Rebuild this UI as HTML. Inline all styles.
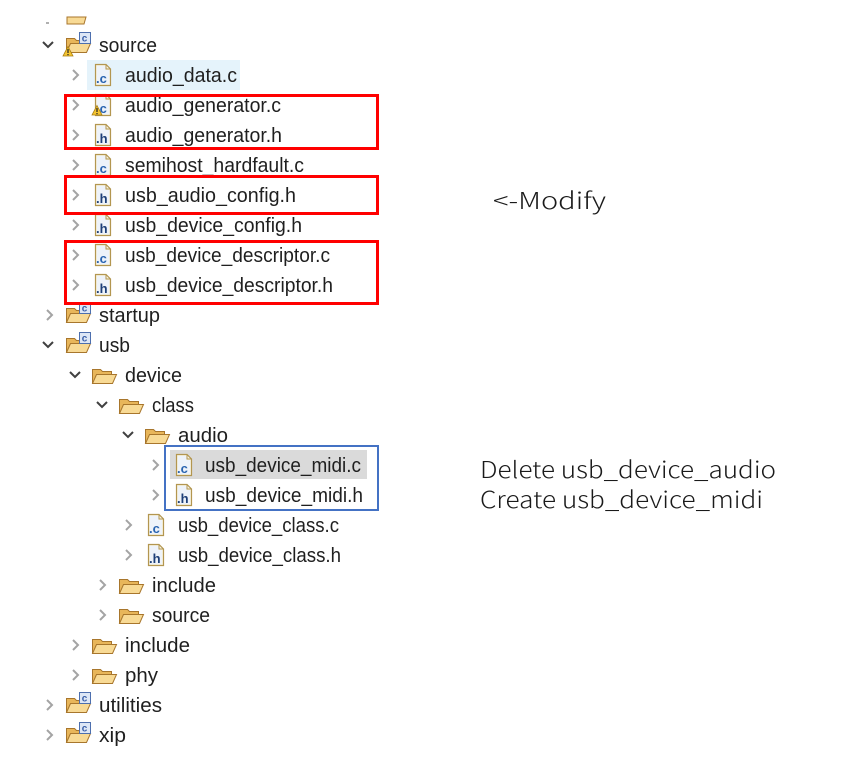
<!DOCTYPE html>
<html><head><meta charset="utf-8"><style>
html,body{margin:0;padding:0;background:#fff;}
svg{display:block;}
.t{font-family:"Liberation Sans",Arial,sans-serif;font-size:20px;fill:#1f1f1f;}
.a{font-family:"Noto Sans CJK JP","Liberation Sans",sans-serif;font-size:23px;font-weight:300;fill:#1a1a1a;}
.ic{font-family:"Liberation Sans",Arial,sans-serif;font-weight:bold;font-size:13px;}
</style></head><body>
<svg width="859" height="760" viewBox="0 0 859 760" xmlns="http://www.w3.org/2000/svg">
<defs>
  <g id="fold">
    <path d="M1.5,3.5 h8 l2,2 h9 v12 h-19 z" fill="#e8b65a" stroke="#a8762c" stroke-width="1"/>
    <path d="M1.5,17.5 L5.5,8.5 H25.5 L21.5,17.5 Z" fill="#f8da95" stroke="#a8762c" stroke-width="1"/>
  </g>
  <g id="badge">
    <rect x="0.5" y="0.5" width="11" height="11" fill="#dde7f6" stroke="#4d6fae"/>
    <text x="2.8" y="9.4" font-family="Liberation Sans,sans-serif" font-weight="bold" font-size="10" fill="#3a5fa8">c</text>
  </g>
  <g id="warn">
    <path d="M5,0.5 L10,10 H0 Z" fill="#f4c431" stroke="#a87d10" stroke-width="0.8"/>
    <rect x="4.4" y="3" width="1.2" height="4" fill="#222"/>
    <rect x="4.4" y="8" width="1.2" height="1.2" fill="#222"/>
  </g>
  <g id="file">
    <path d="M0.5,0.5 H11 L15.5,5 V21.5 H0.5 Z" fill="#f7f4e4" stroke="#b39650" stroke-width="1.2"/>
    <rect x="2" y="2" width="9" height="18" fill="#eef3fa"/>
    <rect x="2" y="6" width="12" height="14" fill="#eef3fa"/>
    <path d="M11,0.5 V5 H15.5" fill="none" stroke="#b39650" stroke-width="1"/>
  </g>
  <g id="cr"><path d="M-3,-5 L2,0 L-3,5" fill="none" stroke="#a4a4a4" stroke-width="2"/></g>
  <g id="cd"><path d="M-5,-2 L0,3 L5,-2" fill="none" stroke="#404040" stroke-width="2"/></g>
</defs>

<!-- top fragment -->
<rect x="46" y="22" width="3" height="2" fill="#b0b0b0"/>
<path d="M67,17 H86 L84,24 H67 Z" fill="#f8da95" stroke="#a8762c" stroke-width="1"/>

<!-- highlights -->
<rect x="87" y="60" width="153" height="30" fill="#e5f3fb"/>
<rect x="170" y="450" width="197" height="29" fill="#dadada"/>

<!-- row 0 source -->
<use href="#cd" x="48" y="44"/>
<use href="#fold" x="65" y="35"/>
<use href="#badge" x="79" y="32"/>
<use href="#warn" x="63" y="46"/>
<text class="t" x="99" y="52" textLength="58" lengthAdjust="spacingAndGlyphs">source</text>

<!-- L2 files -->
<use href="#cr" x="76" y="75"/>
<use href="#file" x="95" y="64"/>
<text class="ic" x="96" y="83" fill="#2a64b0">.c</text>
<text class="t" x="125" y="82" textLength="112" lengthAdjust="spacingAndGlyphs">audio_data.c</text>

<use href="#cr" x="76" y="105"/>
<use href="#file" x="95" y="94"/>
<text class="ic" x="96" y="113" fill="#2a64b0">.c</text>
<use href="#warn" x="92" y="105"/>
<text class="t" x="125" y="112" textLength="156" lengthAdjust="spacingAndGlyphs">audio_generator.c</text>

<use href="#cr" x="76" y="135"/>
<use href="#file" x="95" y="124"/>
<text class="ic" x="96" y="143" fill="#1d3f78">.h</text>
<text class="t" x="125" y="142" textLength="157" lengthAdjust="spacingAndGlyphs">audio_generator.h</text>

<use href="#cr" x="76" y="165"/>
<use href="#file" x="95" y="154"/>
<text class="ic" x="96" y="173" fill="#2a64b0">.c</text>
<text class="t" x="125" y="172" textLength="179" lengthAdjust="spacingAndGlyphs">semihost_hardfault.c</text>

<use href="#cr" x="76" y="195"/>
<use href="#file" x="95" y="184"/>
<text class="ic" x="96" y="203" fill="#1d3f78">.h</text>
<text class="t" x="125" y="202" textLength="171" lengthAdjust="spacingAndGlyphs">usb_audio_config.h</text>

<use href="#cr" x="76" y="225"/>
<use href="#file" x="95" y="214"/>
<text class="ic" x="96" y="233" fill="#1d3f78">.h</text>
<text class="t" x="125" y="232" textLength="177" lengthAdjust="spacingAndGlyphs">usb_device_config.h</text>

<use href="#cr" x="76" y="255"/>
<use href="#file" x="95" y="244"/>
<text class="ic" x="96" y="263" fill="#2a64b0">.c</text>
<text class="t" x="125" y="262" textLength="205" lengthAdjust="spacingAndGlyphs">usb_device_descriptor.c</text>

<use href="#cr" x="76" y="285"/>
<use href="#file" x="95" y="274"/>
<text class="ic" x="96" y="293" fill="#1d3f78">.h</text>
<text class="t" x="125" y="292" textLength="208" lengthAdjust="spacingAndGlyphs">usb_device_descriptor.h</text>

<!-- startup -->
<use href="#cr" x="50" y="315"/>
<use href="#fold" x="65" y="305"/>
<use href="#badge" x="79" y="302"/>
<text class="t" x="99" y="322" textLength="61" lengthAdjust="spacingAndGlyphs">startup</text>

<!-- usb -->
<use href="#cd" x="48" y="344"/>
<use href="#fold" x="65" y="335"/>
<use href="#badge" x="79" y="332"/>
<text class="t" x="99" y="352" textLength="31" lengthAdjust="spacingAndGlyphs">usb</text>

<!-- device -->
<use href="#cd" x="75" y="374"/>
<use href="#fold" x="91" y="366"/>
<text class="t" x="125" y="382" textLength="57" lengthAdjust="spacingAndGlyphs">device</text>

<!-- class -->
<use href="#cd" x="102" y="404"/>
<use href="#fold" x="118" y="396"/>
<text class="t" x="152" y="412" textLength="42" lengthAdjust="spacingAndGlyphs">class</text>

<!-- audio -->
<use href="#cd" x="128" y="434"/>
<use href="#fold" x="144" y="426"/>
<text class="t" x="178" y="442" textLength="50" lengthAdjust="spacingAndGlyphs">audio</text>

<!-- midi files L5 -->
<use href="#cr" x="156" y="465"/>
<use href="#file" x="176" y="454"/>
<text class="ic" x="177" y="473" fill="#2a64b0">.c</text>
<text class="t" x="205" y="472" textLength="156" lengthAdjust="spacingAndGlyphs">usb_device_midi.c</text>

<use href="#cr" x="156" y="495"/>
<use href="#file" x="176" y="484"/>
<text class="ic" x="177" y="503" fill="#1d3f78">.h</text>
<text class="t" x="205" y="502" textLength="158" lengthAdjust="spacingAndGlyphs">usb_device_midi.h</text>

<!-- class files L4 -->
<use href="#cr" x="129" y="525"/>
<use href="#file" x="148" y="514"/>
<text class="ic" x="149" y="533" fill="#2a64b0">.c</text>
<text class="t" x="178" y="532" textLength="161" lengthAdjust="spacingAndGlyphs">usb_device_class.c</text>

<use href="#cr" x="129" y="555"/>
<use href="#file" x="148" y="544"/>
<text class="ic" x="149" y="563" fill="#1d3f78">.h</text>
<text class="t" x="178" y="562" textLength="163" lengthAdjust="spacingAndGlyphs">usb_device_class.h</text>

<!-- include / source L3 -->
<use href="#cr" x="103" y="585"/>
<use href="#fold" x="118" y="576"/>
<text class="t" x="152" y="592" textLength="64" lengthAdjust="spacingAndGlyphs">include</text>

<use href="#cr" x="103" y="615"/>
<use href="#fold" x="118" y="606"/>
<text class="t" x="152" y="622" textLength="58" lengthAdjust="spacingAndGlyphs">source</text>

<!-- include / phy L2 -->
<use href="#cr" x="76" y="645"/>
<use href="#fold" x="91" y="636"/>
<text class="t" x="125" y="652" textLength="65" lengthAdjust="spacingAndGlyphs">include</text>

<use href="#cr" x="76" y="675"/>
<use href="#fold" x="91" y="666"/>
<text class="t" x="125" y="682" textLength="33" lengthAdjust="spacingAndGlyphs">phy</text>

<!-- utilities / xip -->
<use href="#cr" x="50" y="705"/>
<use href="#fold" x="65" y="695"/>
<use href="#badge" x="79" y="692"/>
<text class="t" x="99" y="712" textLength="63" lengthAdjust="spacingAndGlyphs">utilities</text>

<use href="#cr" x="50" y="735"/>
<use href="#fold" x="65" y="725"/>
<use href="#badge" x="79" y="722"/>
<text class="t" x="99" y="742" textLength="27" lengthAdjust="spacingAndGlyphs">xip</text>

<!-- red boxes -->
<rect x="65.5" y="95.5" width="312" height="53" fill="none" stroke="#ff0000" stroke-width="3"/>
<rect x="65.5" y="176.5" width="312" height="37" fill="none" stroke="#ff0000" stroke-width="3"/>
<rect x="65.5" y="241.5" width="312" height="62" fill="none" stroke="#ff0000" stroke-width="3"/>

<!-- blue box -->
<rect x="165" y="446" width="213" height="64" fill="none" stroke="#4472c4" stroke-width="2"/>

<!-- annotations -->
<text class="a" x="493" y="209" textLength="113" lengthAdjust="spacingAndGlyphs">&lt;-Modify</text>
<text class="a" x="480" y="478" textLength="296" lengthAdjust="spacingAndGlyphs">Delete usb_device_audio</text>
<text class="a" x="480" y="508" textLength="283" lengthAdjust="spacingAndGlyphs">Create usb_device_midi</text>
</svg>
</body></html>
